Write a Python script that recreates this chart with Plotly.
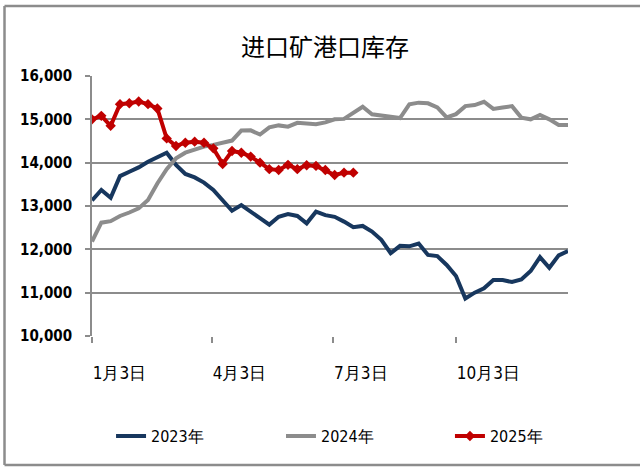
import pandas as pd
import plotly.graph_objects as go

# weekly points, common calendar axis (Jan 3 .. Dec 26)
WEEKS = pd.date_range("2023-01-03", periods=52, freq="7D")

INV_2023 = [13130, 13370, 13190, 13690, 13790, 13890, 14020, 14120, 14230, 13950,
            13740, 13660, 13540, 13370, 13120, 12890, 13020, 12860, 12720, 12570,
            12750, 12815, 12770, 12600, 12870, 12790, 12750, 12640, 12510, 12540,
            12410, 12220, 11910, 12080, 12070, 12135, 11870, 11845, 11640, 11385,
            10865, 11000, 11100, 11290, 11290, 11245, 11305, 11500, 11820, 11575,
            11860, 11960]
INV_2024 = [12180, 12615, 12650, 12770, 12850, 12945, 13140, 13520, 13850, 14100,
            14230, 14310, 14370, 14410, 14450, 14510, 14740, 14745, 14650, 14815,
            14860, 14830, 14920, 14910, 14885, 14930, 15000, 15010, 15140, 15290,
            15115, 15080, 15050, 15030, 15345, 15385, 15370, 15275, 15045, 15120,
            15305, 15330, 15405, 15240, 15275, 15305, 15040, 15000, 15100, 15000,
            14870, 14870]
INV_2025 = [15000, 15080, 14850, 15350, 15370, 15410, 15350, 15250, 14560, 14385,
            14460, 14485, 14460, 14330, 13970, 14270, 14230, 14140, 14000, 13850,
            13830, 13950, 13850, 13940, 13925, 13830, 13715, 13770, 13770]

TICK_DATES = ["2023-01-03", "2023-04-03", "2023-07-03", "2023-10-03"]
TICK_TEXT = ["1月3日", "4月3日", "7月3日", "10月3日"]

NARROW = "DejaVu Sans Condensed, Liberation Sans Narrow, Liberation Sans, sans-serif"
GRID = "#8c8c8c"

fig = go.Figure()

fig.add_trace(go.Scatter(
    x=WEEKS, y=INV_2023, name="2023年", mode="lines",
    line=dict(color="#17375e", width=4),
    legend="legend"
))
fig.add_trace(go.Scatter(
    x=WEEKS, y=INV_2024, name="2024年", mode="lines",
    line=dict(color="#8c8c8c", width=4),
    legend="legend2"
))
fig.add_trace(go.Scatter(
    x=WEEKS[:len(INV_2025)], y=INV_2025, name="2025年", mode="lines+markers",
    line=dict(color="#c00000", width=4),
    marker=dict(symbol="diamond", size=8, color="#c00000"),
    legend="legend3"
))

LEGEND_COMMON = dict(
    orientation="h",
    xanchor="left",
    y=-0.385, yanchor="middle",
    font=dict(family=NARROW, size=16, color="black"),
    bgcolor="rgba(0,0,0,0)"
)

fig.update_layout(
    width=640, height=469,
    margin=dict(l=92, r=72, t=76, b=133, autoexpand=False),
    paper_bgcolor="white",
    plot_bgcolor="white",
    title=dict(
        text="进口矿港口库存",
        x=0.508, xanchor="center",
        y=1 - 48 / 469, yanchor="middle",
        font=dict(family="Noto Sans CJK SC", size=24, color="black")
    ),
    showlegend=True,
    legend={**LEGEND_COMMON, "x": 0.04},
    legend2={**LEGEND_COMMON, "x": 0.397},
    legend3={**LEGEND_COMMON, "x": 0.752},
    shapes=[
        dict(type="line", xref="paper", yref="paper",
             x0=-0.1838, x1=-0.1838, y0=-0.496, y1=1.269,
             line=dict(color=GRID, width=2.5)),
        dict(type="line", xref="paper", yref="paper",
             x0=-0.1838, x1=1.2, y0=1.269, y1=1.269,
             line=dict(color=GRID, width=2.5)),
        dict(type="line", xref="paper", yref="paper",
             x0=-0.1838, x1=1.2, y0=-0.496, y1=-0.496,
             line=dict(color=GRID, width=2.5)),
    ]
)

fig.update_yaxes(
    range=[10000, 16000],
    dtick=1000,
    tickformat=",",
    showgrid=True, gridcolor=GRID, gridwidth=1.75,
    showline=True, linecolor=GRID, linewidth=1.75,
    ticks="outside", ticklen=5, tickcolor=GRID, tickwidth=1.5,
    ticklabelstandoff=10,
    tickfont=dict(family=NARROW, size=15, color="black", weight="bold"),
    zeroline=False
)

fig.update_xaxes(
    type="date",
    range=["2023-01-03", "2023-12-26"],
    tickvals=TICK_DATES,
    ticktext=TICK_TEXT,
    ticklabelposition="outside right",
    showgrid=False,
    showline=False,
    ticks="outside", ticklen=6, tickcolor=GRID, tickwidth=1.5,
    ticklabelstandoff=22,
    tickfont=dict(family=NARROW, size=17, color="black"),
    zeroline=False
)

# the page body has a default 8px margin; drop it so the figure sits at 0,0
fig.write_html(
    "out.html",
    config={"displayModeBar": False},
    post_script="document.body.style.margin='0';"
)
